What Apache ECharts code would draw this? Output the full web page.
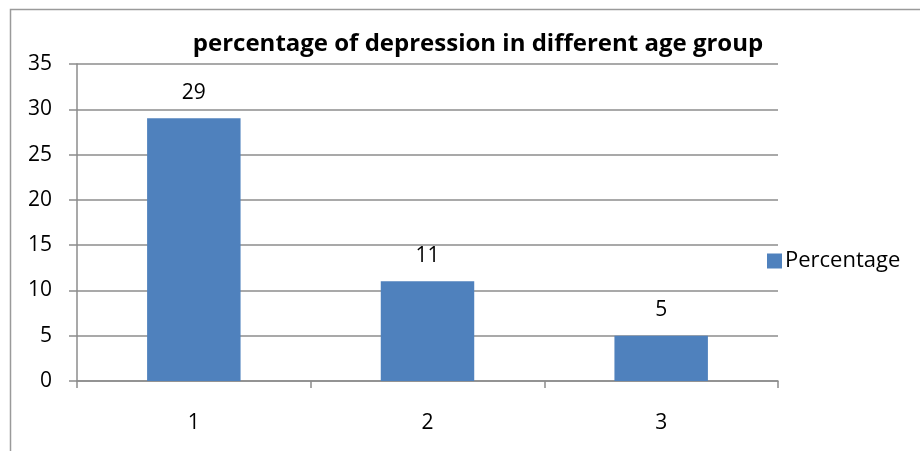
<!DOCTYPE html>
<html>
<head>
<meta charset="utf-8">
<script src="https://cdn.jsdelivr.net/npm/echarts@6/dist/echarts.min.js"></script>
<style>
  html, body { margin: 0; padding: 0; background: #fff; }
  #chart { width: 920px; height: 451px; }
</style>
</head>
<body>
<div id="chart"></div>
<script>
// Age groups and share of depression (%) in each
const categories = ['1', '2', '3'];
const percentage = [29, 11, 5];
const yTicks = { min: 0, max: 35, interval: 5 };

const FONT = '"Open Sans", "Liberation Sans", sans-serif';
const GRID_GREY = '#8c8c8c';

const chart = echarts.init(document.getElementById('chart'), null, { renderer: 'canvas' });
chart.setOption({
  animation: false,
  backgroundColor: '#ffffff',
  graphic: [{
    type: 'rect',
    shape: { x: 10.5, y: 9.5, width: 930, height: 460 },
    style: { fill: 'none', stroke: '#9a9a9a', lineWidth: 1.5 },
    silent: true
  }],
  title: {
    text: 'percentage of depression in different age group',
    left: 473,
    textAlign: 'center',
    top: 27,
    textStyle: { fontFamily: FONT, fontWeight: 'bold', fontSize: 24, color: '#000' }
  },
  legend: {
    data: ['Percentage'],
    orient: 'vertical',
    left: 762,
    top: 245,
    itemWidth: 15,
    itemHeight: 15,
    itemGap: 6,
    icon: 'rect',
    textStyle: { fontFamily: FONT, fontSize: 22, color: '#000', padding: [0, 0, 0, -2] }
  },
  grid: { left: 77, right: 142, top: 64, bottom: 70, containLabel: false },
  xAxis: {
    type: 'category',
    data: categories,
    boundaryGap: true,
    axisLine: { lineStyle: { color: GRID_GREY, width: 1.5 } },
    axisTick: { show: true, length: 7, alignWithLabel: false, lineStyle: { color: GRID_GREY, width: 1.5 } },
    axisLabel: { fontFamily: FONT, fontSize: 21, color: '#000', margin: 32 },
    splitLine: { show: false }
  },
  yAxis: {
    type: 'value',
    min: yTicks.min,
    max: yTicks.max,
    interval: yTicks.interval,
    axisLine: { show: true, lineStyle: { color: GRID_GREY, width: 1.5 } },
    axisTick: { show: true, length: 8, lineStyle: { color: GRID_GREY, width: 1.5 } },
    axisLabel: { fontFamily: FONT, fontSize: 21, color: '#000', margin: 25 },
    splitLine: { show: true, lineStyle: { color: GRID_GREY, width: 1.5 } }
  },
  series: [{
    name: 'Percentage',
    type: 'bar',
    data: percentage,
    barWidth: '40%',
    itemStyle: { color: '#4f81bd' },
    label: {
      show: true,
      position: 'top',
      distance: 15,
      fontFamily: FONT,
      fontSize: 21,
      color: '#000'
    }
  }]
});
</script>
</body>
</html>
